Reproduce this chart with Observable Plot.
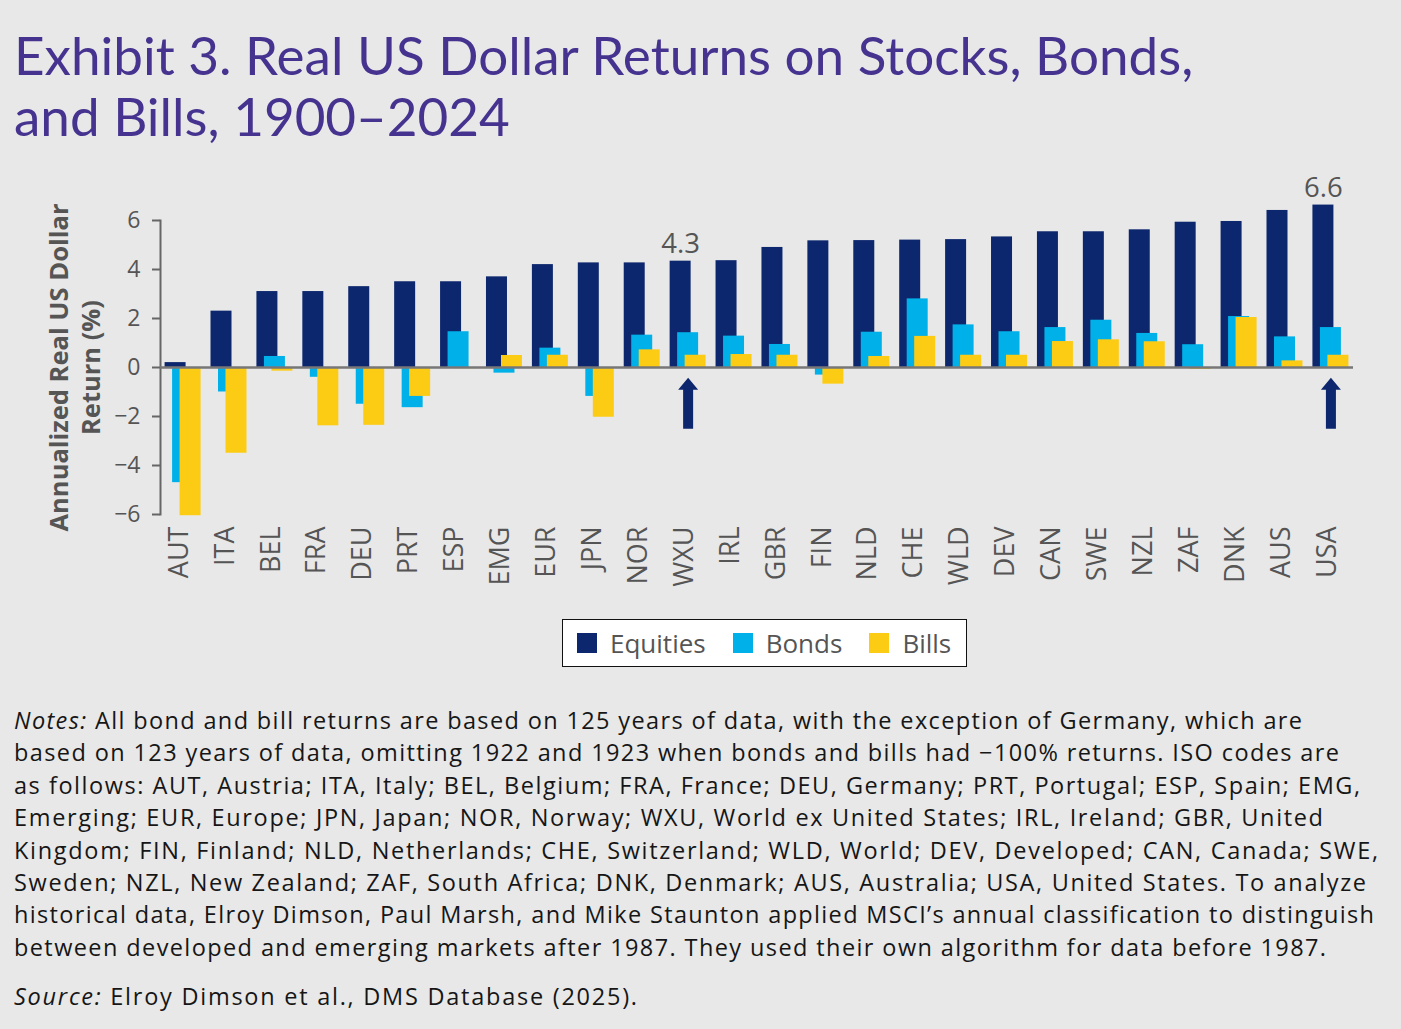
<!DOCTYPE html>
<html>
<head>
<meta charset="utf-8">
<script src="https://cdn.jsdelivr.net/npm/d3@7"></script>
<script src="https://cdn.jsdelivr.net/npm/@observablehq/plot@0.6"></script>
<style>
  html, body { margin: 0; padding: 0; background: #e8e8e8; }
  body { width: 1401px; height: 1029px; position: relative; overflow: hidden; font-family: "Open Sans", "Noto Sans", sans-serif; }
  #title { position: absolute; left: 14px; top: 24px; font-family: Lato, sans-serif; font-size: 53px; line-height: 61px; color: #46338f; font-weight: 400; white-space: nowrap; }
  #chart { position: absolute; left: 0; top: 160px; }
  #legend { position: absolute; left: 562px; top: 619px; height: 46px; background: #fff; border: 1.5px solid #111;
            display: flex; align-items: center; padding-left: 14px; padding-right: 15px; font-size: 26px; color: #555; }
  #legend .sw { width: 20px; height: 20px; margin-right: 13px; }
  #legend .lab { margin-right: 27px; }
  #legend .lab:last-child { margin-right: 0; }
  #notes { position: absolute; left: 14px; top: 704px; font-size: 23.5px; line-height: 32.4px; color: #161616; white-space: nowrap; }
  #notes div { height: 32.4px; }
  #source { position: absolute; left: 14px; top: 980px; font-size: 23.5px; line-height: 32.4px; color: #161616; white-space: nowrap; }
</style>
</head>
<body>
<div id="title">Exhibit 3. Real US Dollar Returns on Stocks, Bonds,<br>and Bills, 1900–2024</div>
<div id="chart"></div>
<div id="legend"></div>
<div id="notes"></div>
<div id="source"></div>
<script>
const countries = ["AUT","ITA","BEL","FRA","DEU","PRT","ESP","EMG","EUR","JPN","NOR","WXU","IRL","GBR","FIN","NLD","CHE","WLD","DEV","CAN","SWE","NZL","ZAF","DNK","AUS","USA"];
const equities = [0.2, 2.3, 3.1, 3.1, 3.3, 3.5, 3.5, 3.7, 4.2, 4.27, 4.27, 4.34, 4.36, 4.9, 5.17, 5.18, 5.2, 5.22, 5.33, 5.54, 5.54, 5.62, 5.93, 5.96, 6.41, 6.63];
const bonds    = [-4.7, -1.0, 0.45, -0.4, -1.5, -1.64, 1.46, -0.23, 0.79, -1.18, 1.32, 1.42, 1.28, 0.94, -0.31, 1.44, 2.8, 1.74, 1.46, 1.63, 1.93, 1.39, 0.93, 2.08, 1.25, 1.63];
const bills    = [-6.05, -3.5, -0.15, -2.38, -2.36, -1.18, -0.05, 0.49, 0.5, -2.03, 0.72, 0.5, 0.53, 0.5, -0.68, 0.45, 1.27, 0.5, 0.5, 1.06, 1.13, 1.05, -0.08, 2.04, 0.27, 0.5];
const seriesNames = ["Equities", "Bonds", "Bills"];
const seriesColors = ["#0d276e", "#00b1e9", "#fccc15"];
const yTicks = [-6, -4, -2, 0, 2, 4, 6];
const valueLabels = [{country: "WXU", text: "4.3"}, {country: "USA", text: "6.6"}];
const arrowCountries = ["WXU", "USA"];
const arrowBase = -2.5;
const yTitle = "Annualized Real US Dollar\nReturn (%)";

const rows = countries.map((c, i) => ({country: c, equities: equities[i], bonds: bonds[i], bills: bills[i]}));
const labelRows = valueLabels.map(d => ({...d, y: equities[countries.indexOf(d.country)]}));
const arrowRows = arrowCountries.map(c => ({country: c, y: arrowBase}));

const arrowShape = {
  draw(context, l) {
    const hw = 5, hh = 10, hl = 12;
    context.moveTo(-hw, 0);
    context.lineTo(-hw, -(l - hl));
    context.lineTo(-hh, -(l - hl));
    context.lineTo(0, -l);
    context.lineTo(hh, -(l - hl));
    context.lineTo(hw, -(l - hl));
    context.lineTo(hw, 0);
    context.closePath();
  }
};

const font = "'Open Sans', 'Noto Sans', sans-serif";
const chart = Plot.plot({
  width: 1401,
  height: 440,
  marginLeft: 160,
  marginRight: 48,
  marginTop: 60,
  marginBottom: 86,
  style: {background: "transparent", fontFamily: font, color: "#555", overflow: "visible"},
  x: {domain: countries, paddingInner: 0.216, paddingOuter: 0.1, round: false, axis: null},
  y: {domain: [-6, 6], axis: null},
  marks: [
    Plot.axisY({ticks: yTicks, tickSize: 8, tickPadding: 12, fontSize: 23, stroke: "#666", strokeWidth: 2, fill: "#555", label: null}),
    Plot.frame({anchor: "left", stroke: "#666", strokeWidth: 2}),
    Plot.axisX({tickRotate: -90, tickSize: 0, tickPadding: 12, dx: -4, fontSize: 27, fill: "#555", label: null}),
    Plot.text([yTitle], {frameAnchor: "left", textAnchor: "middle", rotate: -90, dx: -87, fontWeight: "bold", fontSize: 25.5, lineHeight: 1.25, fill: "#555"}),
    Plot.barY(rows, {x: "country", y: "equities", fill: seriesColors[0], insetRight: 15}),
    Plot.barY(rows, {x: "country", y: "bonds", fill: seriesColors[1], insetLeft: 7.5, insetRight: 7.5}),
    Plot.barY(rows, {x: "country", y: "bills", fill: seriesColors[2], insetLeft: 15}),
    Plot.ruleY([0], {stroke: "#777", strokeWidth: 2.5}),
    Plot.vector(arrowRows, {x: "country", y: "y", length: 51, anchor: "start", shape: arrowShape, fill: seriesColors[0], stroke: "none"}),
    Plot.text(labelRows, {x: "country", y: "y", text: "text", dx: -7.5, dy: -8, lineAnchor: "bottom", fontSize: 27.5, fill: "#555"})
  ]
});
document.getElementById("chart").appendChild(chart);

const legend = document.getElementById("legend");
seriesNames.forEach((n, i) => {
  const sw = document.createElement("span"); sw.className = "sw"; sw.style.background = seriesColors[i];
  const lab = document.createElement("span"); lab.className = "lab"; lab.textContent = n;
  legend.appendChild(sw); legend.appendChild(lab);
});

// each line: [italic lead-in, regular text]
const noteLines = [
  ["Notes:", " All bond and bill returns are based on 125 years of data, with the exception of Germany, which are"],
  ["", "based on 123 years of data, omitting 1922 and 1923 when bonds and bills had −100% returns. ISO codes are"],
  ["", "as follows: AUT, Austria; ITA, Italy; BEL, Belgium; FRA, France; DEU, Germany; PRT, Portugal; ESP, Spain; EMG,"],
  ["", "Emerging; EUR, Europe; JPN, Japan; NOR, Norway; WXU, World ex United States; IRL, Ireland; GBR, United"],
  ["", "Kingdom; FIN, Finland; NLD, Netherlands; CHE, Switzerland; WLD, World; DEV, Developed; CAN, Canada; SWE,"],
  ["", "Sweden; NZL, New Zealand; ZAF, South Africa; DNK, Denmark; AUS, Australia; USA, United States. To analyze"],
  ["", "historical data, Elroy Dimson, Paul Marsh, and Mike Staunton applied MSCI’s annual classification to distinguish"],
  ["", "between developed and emerging markets after 1987. They used their own algorithm for data before 1987."]
];
const sourceLine = ["Source:", " Elroy Dimson et al., DMS Database (2025)."];
// widths of each line as set in the original (px)
const noteWidths = [1288, 1325, 1346, 1309, 1364, 1352, 1360, 1312];
const sourceWidth = 623;

const ctx = document.createElement("canvas").getContext("2d");
function fitLine(container, parts, width) {
  ctx.font = "italic 23.5px 'Open Sans'";
  const wi = parts[0] ? ctx.measureText(parts[0]).width : 0;
  ctx.font = "23.5px 'Open Sans'";
  const wr = ctx.measureText(parts[1]).width;
  const n = parts[0].length + parts[1].length;
  const ls = Math.max(-1, Math.min(3, (width - wi - wr) / (n - 1)));
  const div = document.createElement("div");
  div.style.letterSpacing = ls + "px";
  if (parts[0]) { const it = document.createElement("i"); it.textContent = parts[0]; div.appendChild(it); }
  div.appendChild(document.createTextNode(parts[1]));
  container.appendChild(div);
}
const notesEl = document.getElementById("notes");
noteLines.forEach((l, i) => fitLine(notesEl, l, noteWidths[i]));
fitLine(document.getElementById("source"), sourceLine, sourceWidth);
</script>
</body>
</html>
